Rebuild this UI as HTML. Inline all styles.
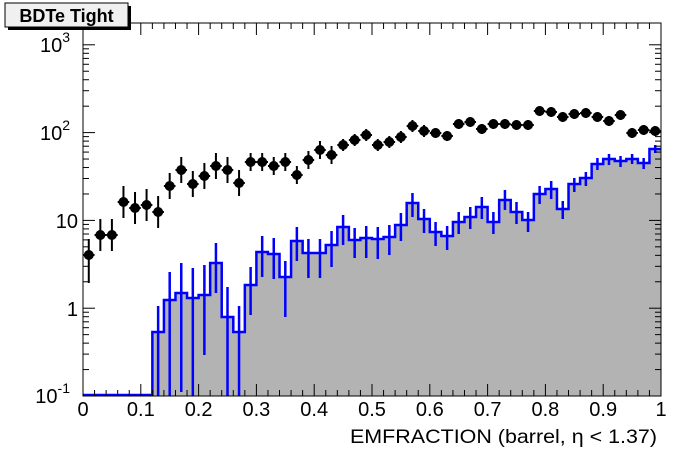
<!DOCTYPE html>
<html><head><meta charset="utf-8"><style>
html,body{margin:0;padding:0;background:#fff;}
svg{display:block;font-family:"Liberation Sans",Arial,sans-serif;}
</style></head><body>
<svg id="s" width="696" height="472" viewBox="0 0 696 472" xmlns="http://www.w3.org/2000/svg">
<rect x="0" y="0" width="696" height="472" fill="#fff"/>
<g id="hist"></g>
<g id="axes" stroke="#000" stroke-width="1" fill="none"></g>
<g id="pts"></g>
<g font-size="20" fill="#000" text-anchor="middle" id="xl"></g>
<g font-size="20" fill="#000" text-anchor="end">
<text x="70" y="52">10<tspan font-size="14" dy="-10">3</tspan></text>
<text x="70" y="140">10<tspan font-size="14" dy="-10">2</tspan></text>
<text x="78" y="228">10</text>
<text x="78" y="316">1</text>
<text x="70" y="403">10<tspan font-size="14" dy="-10">-1</tspan></text>
</g>
<text x="350" y="443" font-size="19.5" textLength="307" lengthAdjust="spacingAndGlyphs" fill="#000">EMFRACTION (barrel,  η &lt; 1.37)</text>
<rect x="8" y="6" width="123" height="24" fill="#000"/>
<rect x="5" y="3" width="123" height="24" fill="#f0f0f0" stroke="#000" stroke-width="1"/>
<text x="66.5" y="22" font-size="18" font-weight="bold" text-anchor="middle" fill="#000">BDTe Tight</text>
</svg>
<script>
var L=83,R=661,T=23,B=396,bw=(R-L)/50;
var NS="http://www.w3.org/2000/svg";
function el(p,n,a){var e=document.createElementNS(NS,n);for(var k in a)e.setAttribute(k,a[k]);p.appendChild(e);return e;}
var h=[396,396,396,396,396,396,332,300,293,298,295,263,317,332,285,252,254,277,241,253,253,245,227,240,238,239,237,225,203,219,232,236,222,217,207,222,200,212,220,194,189,209,184,178,164,159,161,159,163,149];
var hu=[0,0,0,0,0,0,26,28,30,30,30,20,30,26,18,16,16,16,14,14,14,14,12,12,12,12,12,12,10,10,10,10,10,10,10,10,10,10,8,8,8,8,6,6,6,5,5,5,5,4];
var hd=[0,0,0,0,0,0,99,99,99,99,60,30,99,99,30,25,25,40,20,25,25,22,18,18,20,20,18,16,14,14,14,14,12,12,12,12,10,12,12,10,10,10,8,8,6,6,6,5,6,4];
var hg=document.getElementById('hist');
var d="M"+L+","+B;
for(var i=0;i<50;i++){d+=" L"+(L+i*bw)+","+h[i]+" L"+(L+(i+1)*bw)+","+h[i];}
el(hg,"path",{d:d+" L"+R+","+B+" Z",fill:"#b3b3b3",stroke:"none"});
var dl="M"+L+","+(B-1);
for(var i=0;i<50;i++){var y=Math.min(h[i],B-1);dl+=" L"+(L+i*bw)+","+y+" L"+(L+(i+1)*bw)+","+y;}
el(hg,"path",{d:dl,fill:"none",stroke:"#0000ff","stroke-width":"2.5"});
for(var i=6;i<50;i++){var x=L+(i+.5)*bw;el(hg,"line",{x1:x,x2:x,y1:h[i]-hu[i],y2:Math.min(B,h[i]+hd[i]),stroke:"#0000ff","stroke-width":"2.5"});}
var p=[255,235,235,202,208,205,212,186,170,184,176,166,170,183,162,162,166,162,175,160,150,155,145,140,135,145,142,137,126,131,133,136,124,122,129,124,124,125,125,111,112,117,114,113,117,121,115,133,130,131];
var pg=document.getElementById('pts');
for(var i=0;i<50;i++){var x=L+(i+.5)*bw;var e=i<7?16:(i<14?13:(i<22?9:(i<30?6:5)));
el(pg,"line",{x1:x,x2:x,y1:p[i]-e,y2:p[i]+e+(i==0?12:0),stroke:"#000","stroke-width":"2"});
el(pg,"line",{x1:x-bw/2,x2:x+bw/2,y1:p[i],y2:p[i],stroke:"#000","stroke-width":"2"});
el(pg,"circle",{cx:x,cy:p[i],r:5,fill:"#000"});}
var ag=document.getElementById('axes');
el(ag,"rect",{x:L,y:T,width:R-L,height:B-T});
for(var i=0;i<=50;i++){var x=L+i*(R-L)/50;var len=i%5==0?12:6;
el(ag,"line",{x1:x,x2:x,y1:B,y2:B-len});el(ag,"line",{x1:x,x2:x,y1:T,y2:T+len});}
var dec=87.8;
for(var k=-1;k<=3;k++){for(var m=1;m<10;m++){var y=B-(k+1)*dec-Math.log10(m)*dec;if(y<T)continue;var len=m==1?12:6;
el(ag,"line",{x1:L,x2:L+len,y1:y,y2:y});el(ag,"line",{x1:R,x2:R-len,y1:y,y2:y});}}
var xl=document.getElementById('xl');
var labs=["0","0.1","0.2","0.3","0.4","0.5","0.6","0.7","0.8","0.9","1"];
for(var i=0;i<=10;i++){var t=el(xl,"text",{x:L+i*(R-L)/10,y:416});t.textContent=labs[i];}
</script>
</body></html>
